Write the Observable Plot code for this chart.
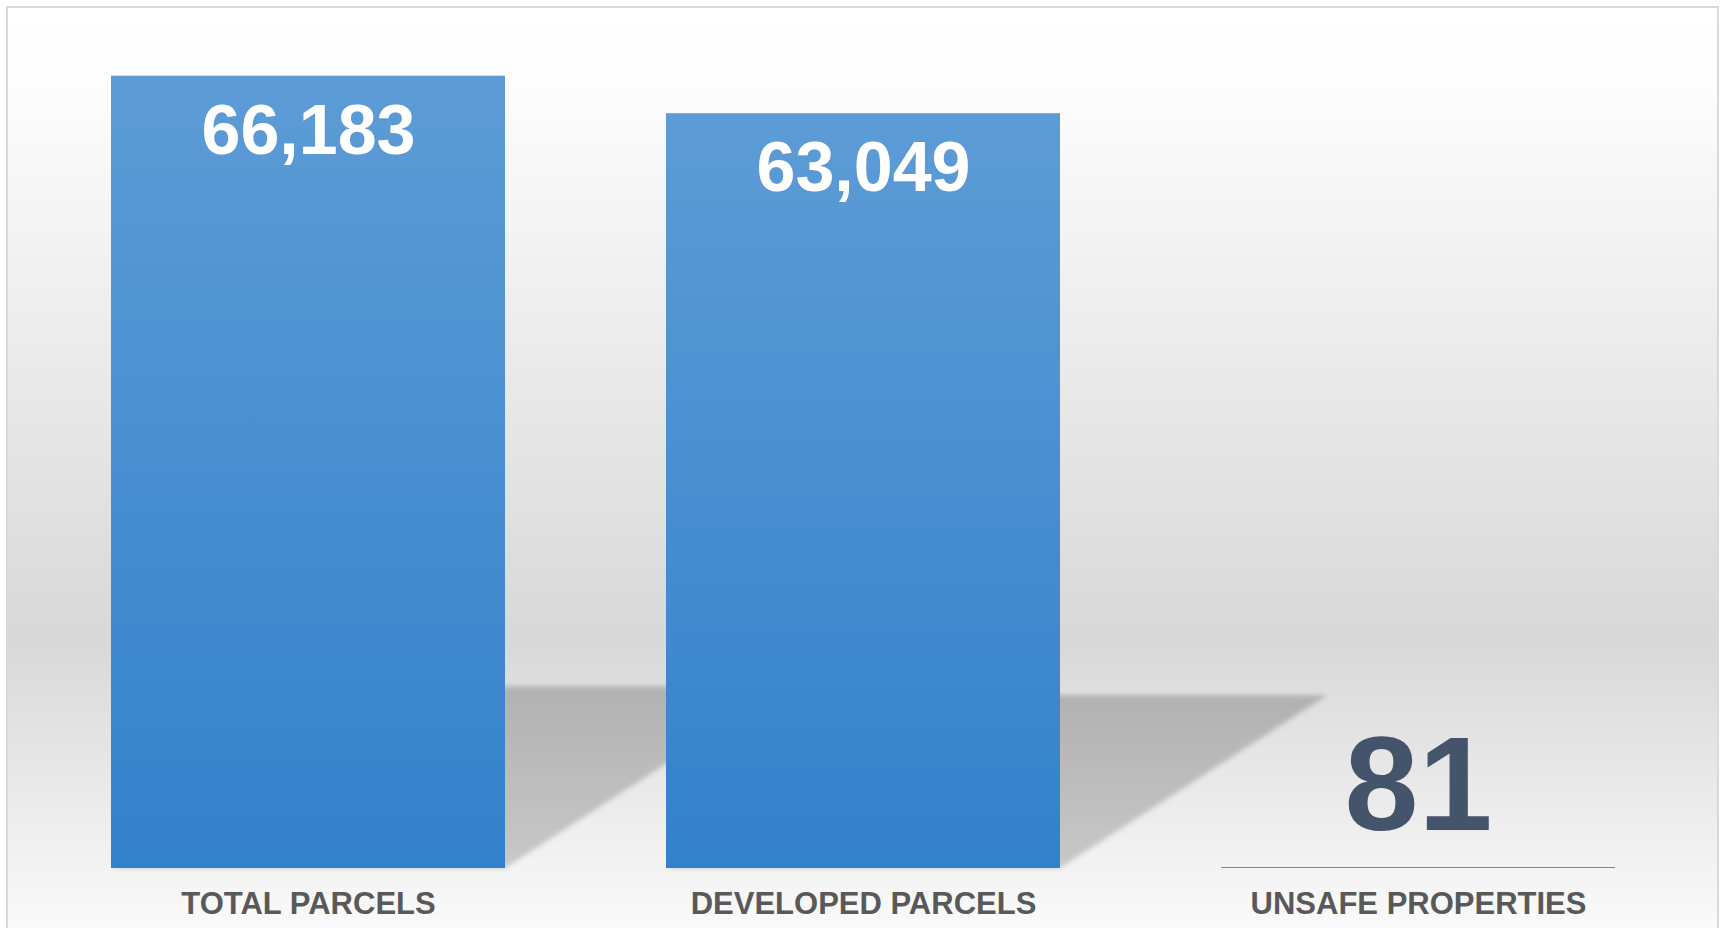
<!DOCTYPE html>
<html><head><meta charset="utf-8">
<script src="https://cdn.jsdelivr.net/npm/d3@7"></script>
<script src="https://cdn.jsdelivr.net/npm/@observablehq/plot@0.6"></script>
<style>
html,body{margin:0;padding:0;width:1726px;height:928px;overflow:hidden;background:#fff;}
#frame{position:absolute;left:6px;top:6px;width:1713px;height:960px;box-sizing:border-box;border:2px solid #d9d9d9;
  background:linear-gradient(to bottom,#ffffff 0%,#fdfdfd 8%,#d8d8d8 66%,#fafafa 96%);}
#chart{position:absolute;left:0;top:0;}
</style></head><body>
<div id="frame"></div><div id="chart"></div>
<script>
const categories = ["TOTAL PARCELS", "DEVELOPED PARCELS", "UNSAFE PROPERTIES"];
const values = [66183, 63049, 81];
const yMax = 70000;

const data = categories.map((category, i) => ({category, value: values[i]}));
const fmt = d3.format(",");
const font = "'Liberation Sans', Arial, Helvetica, sans-serif";

const chart = Plot.plot({
  width: 1726, height: 928,
  marginLeft: 30.5, marginRight: 30.5, marginTop: 30, marginBottom: 60,
  style: {background: "transparent", fontFamily: font},
  x: {domain: categories, paddingInner: 0.29, paddingOuter: 0.145, axis: null},
  y: {domain: [0, yMax], axis: null},
  marks: [
    Plot.barY(data, {x: "category", y: "value", fill: "url(#barGrad)"}),
    Plot.text(data.filter(d => d.value > 5000), {
      x: "category", y: "value", text: d => fmt(d.value),
      fill: "white", fontSize: 70, fontWeight: "bold", lineAnchor: "top", dy: 28
    }),
    Plot.text(data.filter(d => d.value <= 5000), {
      x: "category", y: "value", text: d => fmt(d.value),
      fill: "#44546a", fontSize: 133, fontWeight: "bold", lineAnchor: "bottom", dy: -38
    }),
    Plot.text(data, {
      x: "category", y: () => 0, text: "category",
      fill: "#595959", fontSize: 31, fontWeight: "bold", lineAnchor: "bottom", dy: 45
    })
  ]
});
document.getElementById("chart").appendChild(chart);

const svg = d3.select(chart);
const defs = svg.append("defs");
const bg = defs.append("linearGradient").attr("id", "barGrad").attr("x1", 0).attr("y1", 0).attr("x2", 0).attr("y2", 1);
bg.append("stop").attr("offset", "0%").attr("stop-color", "#5d9cd6");
bg.append("stop").attr("offset", "100%").attr("stop-color", "#3381cb");
const sg = defs.append("linearGradient").attr("id", "shGrad").attr("x1", 0).attr("y1", 0).attr("x2", 0).attr("y2", 1);
sg.append("stop").attr("offset", "0%").attr("stop-color", "#b1b1b1");
sg.append("stop").attr("offset", "100%").attr("stop-color", "#c8c8c8");
const f = defs.append("filter").attr("id", "shBlur").attr("x", "-10%").attr("y", "-10%").attr("width", "120%").attr("height", "120%");
f.append("feGaussianBlur").attr("stdDeviation", 2.5);

// perspective shadows derived from rendered bars
const rects = svg.selectAll('g[aria-label="bar"] rect').nodes();
const shadowG = svg.insert("g", 'g[aria-label="bar"]').attr("filter", "url(#shBlur)");
const barG = svg.select('g[aria-label="bar"]');
const tr = barG.attr("transform");
if (tr) shadowG.attr("transform", tr);
rects.forEach(r => {
  const x = +r.getAttribute("x"), y = +r.getAttribute("y"),
        w = +r.getAttribute("width"), h = +r.getAttribute("height");
  if (h < 20) return;
  const y0 = y + h, dx = 0.354 * h, dy = 0.229 * h;
  const pts = [[x, y0], [x + w, y0], [x + w + dx, y0 - dy], [x + dx, y0 - dy]];
  shadowG.append("polygon").attr("points", pts.map(p => p.join(",")).join(" ")).attr("fill", "url(#shGrad)");
});
</script>
</body></html>
